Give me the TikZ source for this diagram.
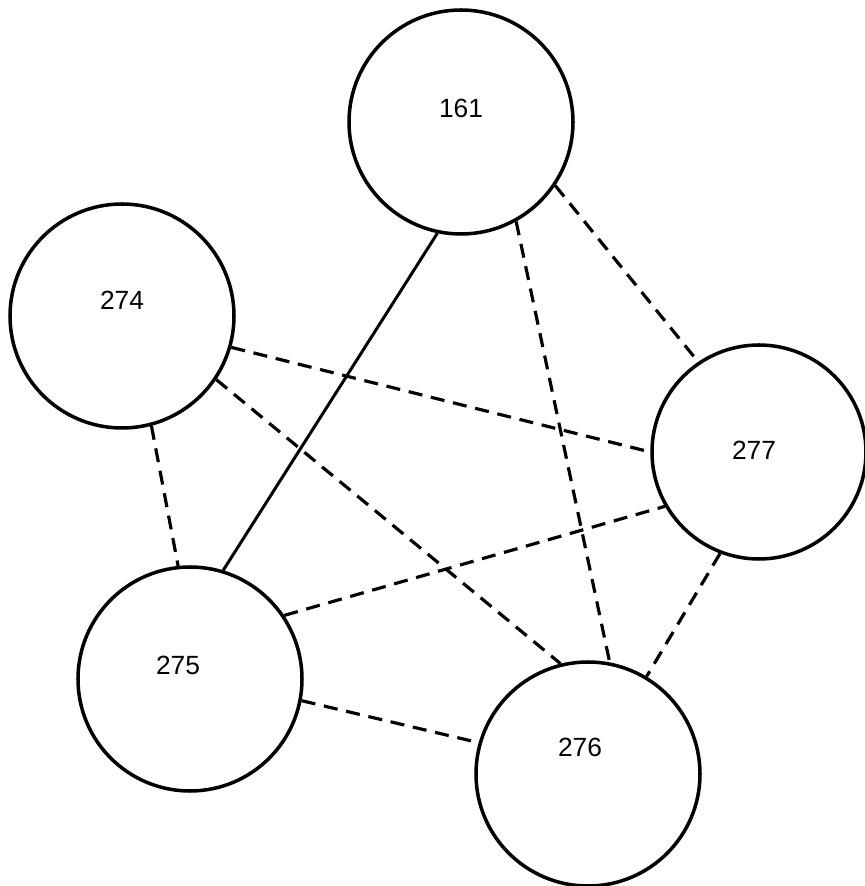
\documentclass[tikz,border=0pt]{standalone}
\usepackage{fontspec}
\setmainfont{Liberation Sans}
\usepackage{tikz}
\usetikzlibrary{positioning}

\tikzset{
  bubble/.style={draw, circle, line width=2pt, minimum size=4.48cm, inner sep=0pt},
  num/.style={font=\fontsize{15}{17}\selectfont},
  link/.style={line width=1.7pt},
  dlink/.style={line width=1.8pt, dash pattern=on 8pt off 5pt}
}

\begin{document}
\begin{tikzpicture}[>=latex]
    \useasboundingbox (0,0) rectangle (17.28,17.72);

    % the five groups
    \node[bubble] (n161) at (9.22,15.28) {};
    \node[bubble] (n274) at (2.44,11.40) {};
    \node[bubble, minimum size=4.28cm] (n277) at (15.18,8.68) {};
    \node[bubble] (n275) at (3.80,4.14) {};
    \node[bubble] (n276) at (11.76,2.24) {};

    \node[num] (t161) at ([yshift=0.28cm]n161) {161};
    \node[num] (t274) at ([yshift=0.32cm]n274) {274};
    \node[num] (t277) at ([xshift=-0.1cm,yshift=0.04cm]n277) {277};
    \node[num] (t275) at ([xshift=-0.24cm,yshift=0.28cm]n275) {275};
    \node[num] (t276) at ([xshift=-0.16cm,yshift=0.54cm]n276) {276};

    % solid link
    \draw[link] (n161.-102) -- (n275.73);

    % dashed links
    \foreach \a/\b in {n161.-34.5/n277.124, n161.-61.5/n276.79,
                       n274.-16.5/n277.180, n274.-34.5/n276.104.7,
                       n274.-75/n275.96, n275.34/n277.210,
                       n275.-11.5/n276.164, n277.249/n276.59.5}
    \draw[dlink] (\a) -- (\b);
\end{tikzpicture}
\end{document}
